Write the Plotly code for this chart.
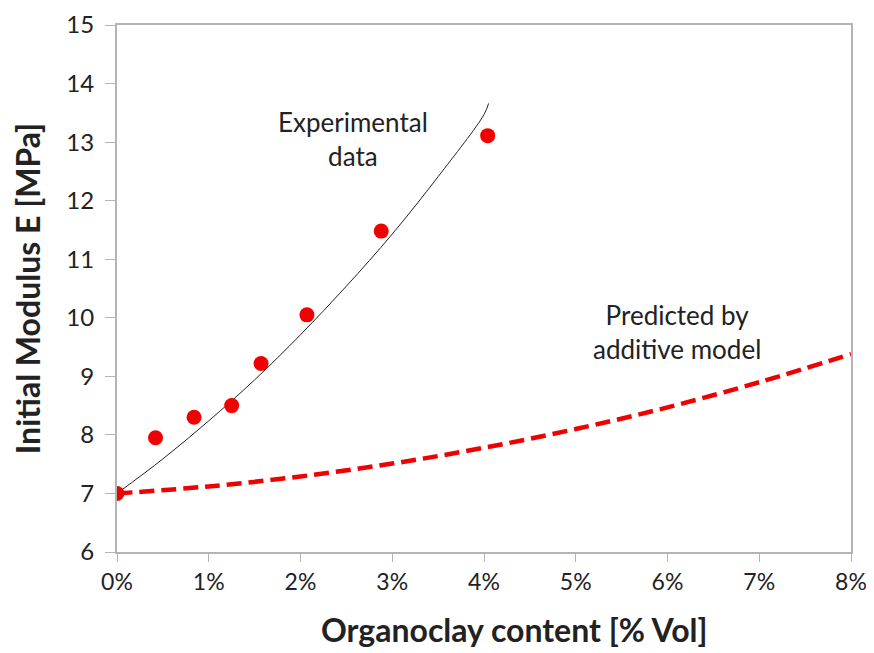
import plotly.graph_objects as go

# Experimental data points (organoclay % vol, modulus MPa)
exp_x = [0.0, 0.42, 0.84, 1.25, 1.57, 2.07, 2.88, 4.04]
exp_y = [7.0, 7.95, 8.30, 8.50, 9.22, 10.05, 11.48, 13.11]

fit_x = [0.0, 0.5, 1.0, 1.5, 2.0, 2.5, 3.0, 3.5, 4.0, 4.05]
fit_y = [7.0, 7.59, 8.24, 8.94, 9.71, 10.54, 11.43, 12.41, 13.47, 13.66]

# Additive model prediction
model_x = [0, 1, 2, 3, 4, 5, 6, 7, 8]
model_y = [7.0, 7.12, 7.29, 7.51, 7.78, 8.10, 8.47, 8.90, 9.38]

x_ticks = [0, 1, 2, 3, 4, 5, 6, 7, 8]
x_ticklabels = [f"{v}%" for v in x_ticks]

font_family = "Lato, Open Sans, sans-serif"
axis_color = "#b4b4b4"
red = '#f00000'

fig = go.Figure()

fig.add_trace(go.Scatter(
    x=model_x, y=model_y, mode='lines', line_shape='spline',
    line=dict(color=red, width=4.5, dash='15px,7px'), hoverinfo='skip'
))
fig.add_trace(go.Scatter(
    x=fit_x, y=fit_y, mode='lines', line_shape='spline',
    line=dict(color='#222222', width=1), hoverinfo='skip'
))
fig.add_trace(go.Scatter(
    x=exp_x, y=exp_y, mode='markers',
    marker=dict(color=red, size=15)
))

fig.add_annotation(x=2.57, y=13.05, xref='x', yref='y', text="Experimental<br>data",
                   showarrow=False, font=dict(size=26, color='#222222'))
fig.add_annotation(x=6.1, y=9.76, xref='x', yref='y', text="Predicted by<br>additive model",
                   showarrow=False, font=dict(size=26, color='#222222'))
# x title sits a little right of the plot centre in the original
fig.add_annotation(x=0.541, y=-0.148, xref='paper', yref='paper', yanchor='middle',
                   text="<b>Organoclay content [% Vol]</b>", showarrow=False,
                   font=dict(size=32, color='#222222'))

# page body has an 8px default margin, so the figure is offset by it
fig.update_layout(
    width=866, height=645, showlegend=False,
    plot_bgcolor='white', paper_bgcolor='white',
    font=dict(family=font_family, size=23, color='#222222'),
    margin=dict(l=109, r=23, t=17, b=101),
    xaxis=dict(range=[0, 8], tickvals=x_ticks, ticktext=x_ticklabels,
               showgrid=False, zeroline=False, showline=True, mirror=True,
               linecolor=axis_color, linewidth=2, ticks='outside', ticklen=8,
               tickcolor=axis_color, tickfont=dict(size=23), automargin=False),
    yaxis=dict(range=[6, 15], dtick=1,
               showgrid=False, zeroline=False, showline=True, mirror=True,
               linecolor=axis_color, linewidth=2, ticks='outside', ticklen=10,
               tickcolor=axis_color, tickfont=dict(size=24), automargin=False,
               ticklabelstandoff=6,
               title=dict(text="<b>Initial Modulus E [MPa]</b>", font=dict(size=32), standoff=16)),
)

fig.write_html("out.html")
